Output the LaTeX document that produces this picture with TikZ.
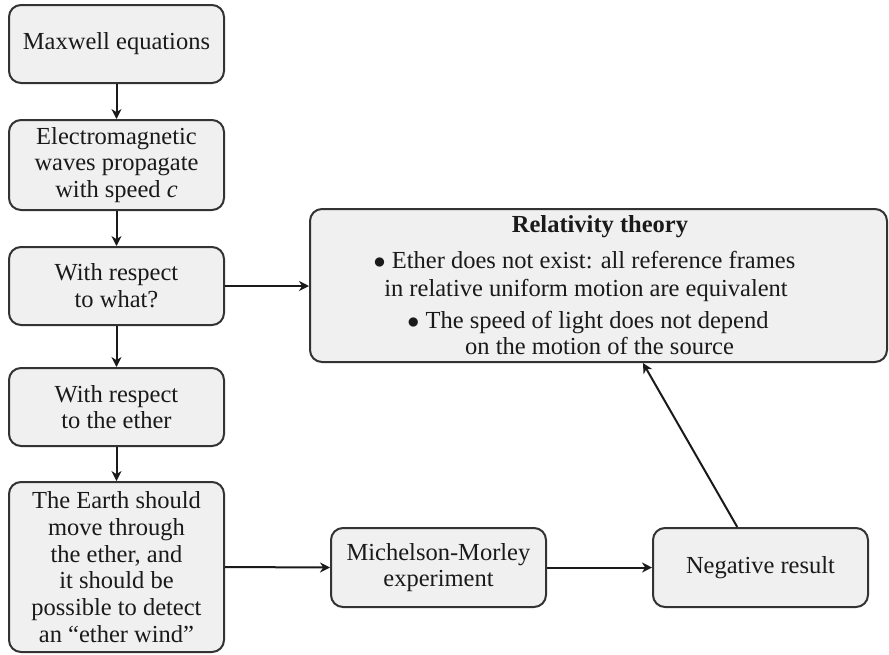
\documentclass[tikz,border=0pt]{standalone}
\usepackage{fontspec}
\setmainfont{Liberation Serif}
\usetikzlibrary{arrows.meta}
\definecolor{boxfill}{HTML}{F0F0F0}
\definecolor{boxline}{HTML}{333333}
\definecolor{inkcol}{HTML}{1A1A1A}
\begin{document}
\begin{tikzpicture}[x=0.5pt,y=-0.5pt,
  txt/.style={font=\fontsize{12.25}{13.35}\selectfont, text=inkcol},
  box/.style={txt, draw=boxline, fill=boxfill, line width=1pt,
    rounded corners=6pt, align=center, inner sep=0pt, minimum width=107.5pt},
  lineof/.style={txt, inner sep=0pt, anchor=base},
  flow/.style={-{Stealth[length=5pt,width=5pt,inset=1.6pt]}, line width=1pt, draw=inkcol}]
\useasboundingbox (0,0) rectangle (889,654);

% left column
\node[box, minimum height=39pt] (maxwell) at (116.5,44) {Maxwell equations};
\node[box, minimum height=45pt] (waves) at (116.5,165) {Electromagnetic\\waves propagate\\with speed \textit{c}};
\node[box, minimum height=39pt] (what) at (116.5,286) {With respect\\to what?};
\node[box, minimum height=39pt] (ether) at (116.5,407) {With respect\\to the ether};
\node[box, minimum height=85pt] (earth) at (116.5,567) {The Earth should\\move through\\the ether, and\\it should be\\possible to detect\\an ``ether wind''};

% bottom row
\node[box, minimum height=39.5pt] (mm) at (438.5,567.5) {Michelson-Morley\\experiment};
\node[box, minimum height=39.5pt] (neg) at (760.5,567.5) {Negative result};

% conclusion box
\node[box, minimum width=288.5pt, minimum height=76.5pt] (rel) at (598.5,285.5) {};
\node[lineof] (reltitle) at (600,232) {\bfseries Relativity theory};
\node[lineof] (relA) at (584.5,268) {$\bullet$ Ether does not exist: all reference frames};
\node[lineof] (relB) at (586,296) {in relative uniform motion are equivalent};
\node[lineof] (relC) at (588,328) {$\bullet$ The speed of light does not depend};
\node[lineof] (relD) at (599.5,354) {on the motion of the source};

% connectors
\draw[flow] (maxwell) -- (waves);
\draw[flow] (waves) -- (what);
\draw[flow] (what) -- (ether);
\draw[flow] (ether) -- (earth);
\draw[flow] (what.east) -- (what.east -| rel.west);
\draw[flow] (earth.east) -- (mm.west);
\draw[flow] (mm) -- (neg);
\draw[flow] (neg) -- (rel);
\end{tikzpicture}
\end{document}
